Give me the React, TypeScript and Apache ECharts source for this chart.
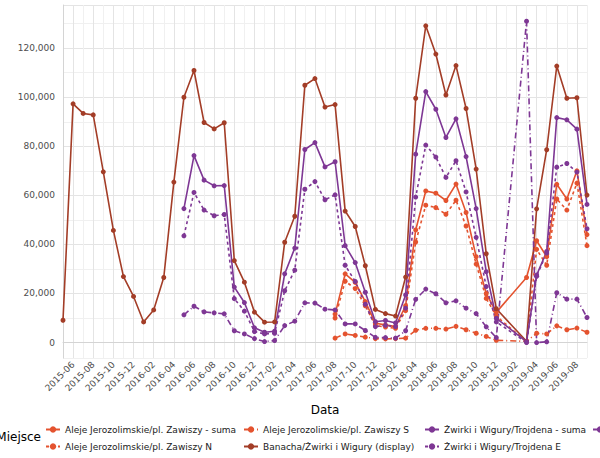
import React, { useEffect, useRef } from "react";
import * as echarts from "echarts";

// months 2015-05 .. 2019-09
const months: string[] = [
  "2015-05", "2015-06", "2015-07", "2015-08", "2015-09", "2015-10", "2015-11", "2015-12",
  "2016-01", "2016-02", "2016-03", "2016-04", "2016-05", "2016-06", "2016-07", "2016-08",
  "2016-09", "2016-10", "2016-11", "2016-12", "2017-01", "2017-02", "2017-03", "2017-04",
  "2017-05", "2017-06", "2017-07", "2017-08", "2017-09", "2017-10", "2017-11", "2017-12",
  "2018-01", "2018-02", "2018-03", "2018-04", "2018-05", "2018-06", "2018-07", "2018-08",
  "2018-09", "2018-10", "2018-11", "2018-12", "2019-01", "2019-02", "2019-03", "2019-04",
  "2019-05", "2019-06", "2019-07", "2019-08", "2019-09",
];

const _ = null;

const banacha = [
  9100, 97300, 93400, 92800, 69600, 45700, 26900, 18800,
  8400, 13300, 26500, 65400, 100000, 110900, 89700, 87100,
  89600, 33400, 24600, 12400, 8300, 8400, 40900, 51500,
  104900, 107600, 96000, 97000, 53600, 47300, 31300, 13500,
  11800, 10800, 26700, 99600, 129100, 117600, 100900, 112900,
  95400, 70700, 36200, 13800, _, _, 500, 54500,
  78600, 112700, 99600, 99800, 60100,
];

const trojdenaSuma = [
  _, _, _, _, _, _, _, _,
  _, _, _, _, 54600, 76200, 66200, 63900,
  64000, 22600, 16300, 6000, 4200, 4600, 28000, 38500,
  78700, 81500, 71600, 73700, 39500, 32600, 20500, 8500,
  9000, 8000, 19400, 76800, 102300, 95100, 83600, 91200,
  75800, 54600, 28900, 9900, _, _, 400, 27500,
  37100, 91700, 90800, 87000, 56300,
];

const trojdenaE = [
  _, _, _, _, _, _, _, _,
  _, _, _, _, 43500, 61200, 54000, 51700,
  52200, 17900, 12800, 4500, 3500, 3800, 21100, 29500,
  62500, 65600, 58200, 60200, 31500, 24900, 15600, 6500,
  7000, 6500, 14000, 59300, 80500, 75600, 67300, 74100,
  61400, 42900, 22800, 8400, _, _, 0, 27000,
  36500, 71500, 73000, 69500, 46400,
];

const trojdenaW = [
  _, _, _, _, _, _, _, _,
  _, _, _, _, 11300, 14800, 12500, 12100,
  11700, 4800, 3500, 1600, 400, 800, 6900, 8700,
  16200, 16100, 13600, 13300, 7600, 7600, 4900, 2100,
  2000, 1800, 4800, 17600, 21800, 19900, 16200, 17000,
  14000, 11800, 6400, 2000, _, _, 131000, 0,
  300, 20300, 17700, 17700, 10200,
];

const alejeSuma = [
  _, _, _, _, _, _, _, _,
  _, _, _, _, _, _, _, _,
  _, _, _, _, _, _, _, _,
  _, _, _, 11600, 28000, 24500, 16700, 7900,
  7200, 6500, 15000, 45900, 61800, 60900, 57900, 64600,
  53000, 35000, 20000, 12300, _, _, 26500, 41500,
  35000, 64500, 58500, 70000, 44000,
];

const alejeN = [
  _, _, _, _, _, _, _, _,
  _, _, _, _, _, _, _, _,
  _, _, _, _, _, _, _, _,
  _, _, _, 10000, 25000, 22000, 15000, 7000,
  6300, 5800, 13000, 41000, 56000, 55000, 52300, 58000,
  47500, 32000, 18000, 10800, _, _, 300, 38000,
  31500, 58500, 54000, 65000, 39500,
];

const alejeS = [
  _, _, _, _, _, _, _, _,
  _, _, _, _, _, _, _, _,
  _, _, _, _, _, _, _, _,
  _, _, _, 1800, 3500, 2900, 2200, 1600,
  1500, 1600, 1800, 5000, 5800, 5800, 5500, 6600,
  5200, 3800, 2500, 900, _, _, 500, 3800,
  3500, 6800, 5200, 5900, 4200,
];

const ORANGE = "#E4532F";
const BROWN = "#A33D27";
const PURPLE = "#7E3794";
const FONT = "DejaVu Sans";

const names = {
  aSuma: "Aleje Jerozolimskie/pl. Zawiszy - suma",
  aN: "Aleje Jerozolimskie/pl. Zawiszy N",
  aS: "Aleje Jerozolimskie/pl. Zawiszy S",
  ban: "Banacha/Żwirki i Wigury (display)",
  tSuma: "Żwirki i Wigury/Trojdena - suma",
  tE: "Żwirki i Wigury/Trojdena E",
  tW: "Żwirki i Wigury/Trojdena W",
};

function mkSeries(name: string, data: (number | null)[], color: string, dash: any) {
  return {
    name,
    type: "line",
    data,
    connectNulls: true,
    symbol: "circle",
    symbolSize: 5,
    itemStyle: { color },
    lineStyle: { color, width: 1.6, type: dash },
  };
}

function legendAt(left: number, data: string[]) {
  return {
    left,
    top: 425,
    orient: "vertical",
    data,
    itemWidth: 14,
    itemHeight: 8,
    itemGap: 8,
    padding: 0,
    textStyle: { fontFamily: FONT, fontSize: 9, color: "#1a1a1a" },
  };
}

function App() {
  const chartRef = useRef<HTMLDivElement>(null);

  useEffect(() => {
    const myChart = echarts.init(chartRef.current!, null, { renderer: "svg" });
    const option: any = {
      animation: false,
      backgroundColor: "#ffffff",
      grid: { left: 63, right: 13, top: 5, bottom: 100 },
      legend: [
        legendAt(45, [names.aSuma, names.aN]),
        legendAt(243, [names.aS, names.ban]),
        legendAt(424, [names.tSuma, names.tE]),
        legendAt(592, [names.tW]),
      ],
      graphic: [
        {
          type: "text",
          x: 41,
          y: 437,
          style: {
            text: "Miejsce",
            fontFamily: FONT,
            fontSize: 12,
            fill: "#000",
            align: "right",
            verticalAlign: "middle",
          },
        },
      ],
      xAxis: {
        type: "category",
        data: months,
        boundaryGap: false,
        name: "Data",
        nameLocation: "middle",
        nameGap: 46,
        nameTextStyle: { fontFamily: FONT, fontSize: 12, color: "#000" },
        axisLine: { show: true, lineStyle: { color: "#d4d4d4" } },
        axisTick: { show: false },
        axisLabel: {
          interval: (i: number) => i % 2 === 1,
          rotate: 45,
          margin: 5,
          fontFamily: FONT,
          fontSize: 9,
          color: "#4d4d4d",
        },
        splitLine: {
          show: true,
          interval: 0,
          lineStyle: { color: ["#f0f0f0", "#e4e4e4"], width: 1 },
        },
      },
      yAxis: {
        type: "value",
        min: -6300,
        max: 137600,
        splitNumber: 14,
        axisLine: { show: true, lineStyle: { color: "#d4d4d4" } },
        axisTick: { show: false },
        axisLabel: {
          margin: 8,
          fontFamily: FONT,
          fontSize: 9,
          color: "#4d4d4d",
          formatter: (v: number) =>
            v % 20000 === 0 ? v.toLocaleString("en-US") : "",
        },
        splitLine: {
          show: true,
          lineStyle: { color: ["#f0f0f0", "#e4e4e4"], width: 1 },
        },
      },
      series: [
        mkSeries(names.aSuma, alejeSuma, ORANGE, "solid"),
        mkSeries(names.aN, alejeN, ORANGE, [3, 3]),
        mkSeries(names.aS, alejeS, ORANGE, [6, 3, 1, 3]),
        mkSeries(names.ban, banacha, BROWN, "solid"),
        mkSeries(names.tSuma, trojdenaSuma, PURPLE, "solid"),
        mkSeries(names.tE, trojdenaE, PURPLE, [3, 3]),
        mkSeries(names.tW, trojdenaW, PURPLE, [6, 3, 1, 3]),
      ],
    };

    myChart.setOption(option);

    return () => {
      myChart.dispose();
    };
  }, []);

  return (
    <div
      ref={chartRef}
      style={{ position: "absolute", left: 0, top: 0, width: 600, height: 458 }}
    />
  );
}

export default App;
